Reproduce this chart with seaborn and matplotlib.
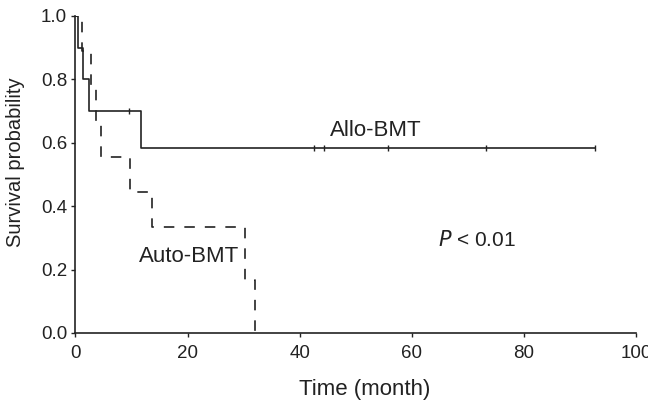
import numpy as np
import pandas as pd
import matplotlib
matplotlib.use('Agg')
import matplotlib.pyplot as plt
import seaborn as sns

# Kaplan-Meier step data
allo_time = [0, 0.5, 1.4, 2.4, 11.7, 92.7]
allo_surv = [1.0, 0.9, 0.8, 0.7, 0.583, 0.583]
allo_censor_time = [9.5, 42.5, 44.3, 55.8, 73.2, 92.7]
allo_censor_surv = [0.7, 0.583, 0.583, 0.583, 0.583, 0.583]

auto_time = [0, 1.1, 2.8, 3.7, 4.5, 9.8, 13.6, 30.2, 32.1]
auto_surv = [1.0, 0.889, 0.778, 0.667, 0.556, 0.444, 0.333, 0.167, 0.0]

x_ticks = [0, 20, 40, 60, 80, 100]
y_ticks = [0.0, 0.2, 0.4, 0.6, 0.8, 1.0]

sns.set_style('ticks')
plt.rcParams['font.family'] = ['Liberation Sans', 'DejaVu Sans']

allo = pd.DataFrame({'time': allo_time, 'surv': allo_surv})
auto = pd.DataFrame({'time': auto_time, 'surv': auto_surv})
cens = pd.DataFrame({'time': allo_censor_time, 'surv': allo_censor_surv})

ink = '#222222'
fig = plt.figure(figsize=(6.48, 4.05), dpi=100)
ax = fig.add_axes([0.1165, 0.1778, 0.865, 0.7827])

sns.lineplot(data=allo, x='time', y='surv', drawstyle='steps-post',
             color=ink, linewidth=1.2, ax=ax)
# dash offset chosen so the short step near t=31 lands in a gap, as in the source
sns.lineplot(data=auto, x='time', y='surv', drawstyle='steps-post',
             color=ink, linewidth=1.2, linestyle=(4.6, (6.3, 6)), ax=ax)
sns.scatterplot(data=cens, x='time', y='surv', marker='|', s=20,
                color=ink, linewidth=1.0, ax=ax)

ax.text(53.6, 0.64, 'Allo-BMT', fontsize=16, ha='center', va='center', color=ink)
ax.text(20.3, 0.24, 'Auto-BMT', fontsize=16, ha='center', va='center', color=ink)
ax.text(64.7, 0.293, r'$P$ < 0.01', fontsize=15, ha='left', va='center', color=ink)

ax.set_xlim(0, 100)
ax.set_ylim(0, 1.0)
ax.set_xticks(x_ticks)
ax.set_yticks(y_ticks)
ax.set_xticklabels([str(t) for t in x_ticks], fontsize=13.5)
ax.set_yticklabels([f'{t:.1f}' for t in y_ticks], fontsize=13.5)
ax.tick_params(direction='out', length=3, width=1, color=ink, labelcolor=ink)
ax.tick_params(axis='x', pad=6)
ax.tick_params(axis='y', pad=3)
ax.set_xlabel('Time (month)', fontsize=16, color=ink)
ax.set_ylabel('Survival probability', fontsize=14.5, color=ink)
ax.xaxis.set_label_coords(0.516, -0.145)
ax.yaxis.set_label_coords(-0.090, 0.54)
for s in ['left', 'bottom']:
    ax.spines[s].set_color(ink)
    ax.spines[s].set_linewidth(1.2)
sns.despine(ax=ax)

fig.savefig('out.png', dpi=100)
